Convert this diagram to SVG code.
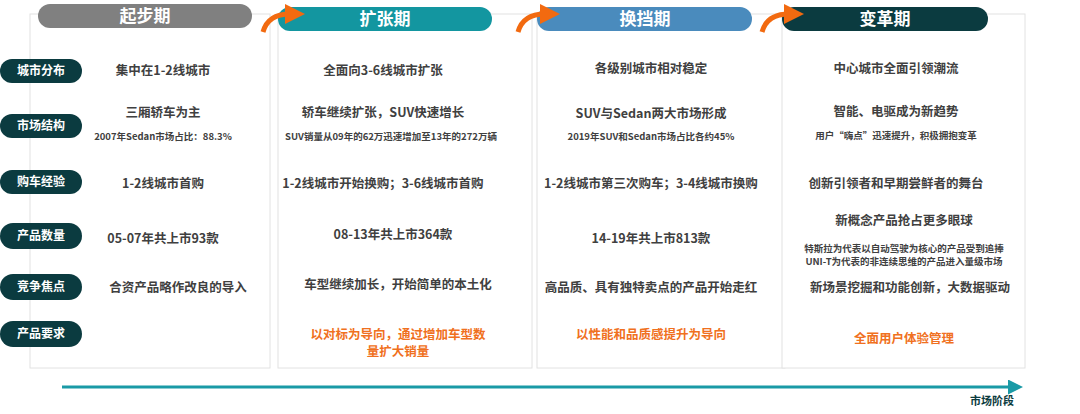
<svg xmlns="http://www.w3.org/2000/svg" width="1080" height="414" viewBox="0 0 1080 414">
<style>
text{font-family:"Noto Sans CJK SC","Noto Sans",sans-serif;font-weight:bold;text-anchor:middle}
.panel{fill:#fff;stroke:#e2e2e2;stroke-width:1}
.hd{font-size:17px;fill:#fff}
.lb{fill:#0b3b40}
.lt{font-size:12px;fill:#fff}
.m{font-size:12.5px;fill:#404040}
.s{font-size:9.5px;fill:#404040}
.o{font-size:12.5px;fill:#f07020}
.arc{fill:none;stroke:#f26a10;stroke-width:5}
</style>
<defs>
<marker id="oh" markerWidth="4" markerHeight="4" refX="1" refY="2" orient="auto"><path d="M0,0L4,2L0,4Z" fill="#f26a10"/></marker>
<marker id="th" markerWidth="5" markerHeight="5" refX="2" refY="2.5" orient="auto"><path d="M0,0L5,2.5L0,5Z" fill="#1a9aa6"/></marker>
</defs>
<g id="col1"><rect class="panel" x="30" y="14" width="240" height="354"/><rect x="38" y="4" width="214" height="24" rx="12" fill="#808080"/><text class="hd" x="145" y="22">起步期</text>
<text class="m" x="163" y="75">集中在1-2线城市</text><text class="m" x="163" y="117">三厢轿车为主</text><text class="s" x="163" y="140">2007年Sedan市场占比：88.3%</text>
<text class="m" x="163" y="188">1-2线城市首购</text><text class="m" x="163" y="243">05-07年共上市93款</text><text class="m" x="178" y="292">合资产品略作改良的导入</text></g>
<g id="col2"><rect class="panel" x="278" y="14" width="254" height="354"/><rect x="278" y="7" width="214" height="24" rx="12" fill="#1396a0"/><text class="hd" x="385" y="25">扩张期</text>
<text class="m" x="383" y="75">全面向3-6线城市扩张</text><text class="m" x="383" y="117">轿车继续扩张，SUV快速增长</text><text class="s" x="391" y="140">SUV销量从09年的62万迅速增加至13年的272万辆</text>
<text class="m" x="383" y="188">1-2线城市开始换购；3-6线城市首购</text><text class="m" x="393" y="239">08-13年共上市364款</text><text class="m" x="398" y="289">车型继续加长，开始简单的本土化</text>
<text class="o" x="398" y="339">以对标为导向，通过增加车型数</text><text class="o" x="398" y="356">量扩大销量</text></g>
<g id="col3"><rect class="panel" x="537" y="14" width="248" height="354"/><rect x="537" y="7" width="215" height="24" rx="12" fill="#4a8bbd"/><text class="hd" x="645" y="25">换挡期</text>
<text class="m" x="651" y="73">各级别城市相对稳定</text><text class="m" x="651" y="118">SUV与Sedan两大市场形成</text><text class="s" x="651" y="140">2019年SUV和Sedan市场占比各约45%</text>
<text class="m" x="651" y="188">1-2线城市第三次购车；3-4线城市换购</text><text class="m" x="651" y="243">14-19年共上市813款</text><text class="m" x="651" y="292">高品质、具有独特卖点的产品开始走红</text>
<text class="o" x="651" y="339">以性能和品质感提升为导向</text></g>
<g id="col4"><rect class="panel" x="782" y="14" width="243" height="354"/><rect x="782" y="7" width="206" height="24" rx="12" fill="#0b3b40"/><text class="hd" x="885" y="25">变革期</text>
<text class="m" x="896" y="73">中心城市全面引领潮流</text><text class="m" x="896" y="116">智能、电驱成为新趋势</text><text class="s" x="896" y="139">用户“嗨点”迅速提升，积极拥抱变革</text>
<text class="m" x="896" y="188">创新引领者和早期尝鲜者的舞台</text><text class="m" x="904" y="225">新概念产品抢占更多眼球</text>
<text class="s" x="904" y="252">特斯拉为代表以自动驾驶为核心的产品受到追捧</text><text class="s" x="904" y="265">UNI-T为代表的非连续思维的产品进入量级市场</text>
<text class="m" x="910" y="292">新场景挖掘和功能创新，大数据驱动</text><text class="o" x="904" y="343">全面用户体验管理</text></g>
<g id="labels">
<rect class="lb" x="0" y="59" width="82" height="24" rx="12"/><text class="lt" x="41" y="75">城市分布</text>
<rect class="lb" x="0" y="114" width="82" height="24" rx="12"/><text class="lt" x="41" y="130">市场结构</text>
<rect class="lb" x="0" y="170" width="82" height="24" rx="12"/><text class="lt" x="41" y="186">购车经验</text>
<rect class="lb" x="0" y="223" width="82" height="26" rx="13"/><text class="lt" x="41" y="240">产品数量</text>
<rect class="lb" x="0" y="274" width="82" height="26" rx="13"/><text class="lt" x="41" y="291">竞争焦点</text>
<rect class="lb" x="0" y="321" width="82" height="26" rx="13"/><text class="lt" x="41" y="338">产品要求</text>
</g>
<g id="connectors">
<path class="arc" d="M263,32 Q268,14 290,14" marker-end="url(#oh)"/>
<path class="arc" d="M518,32 Q523,14 545,14" marker-end="url(#oh)"/>
<path class="arc" d="M762,32 Q767,14 789,14" marker-end="url(#oh)"/>
<line x1="62" y1="387" x2="1014" y2="387" stroke="#1a9aa6" stroke-width="3" marker-end="url(#th)"/>
</g>
<text x="992" y="405" style="font-size:11px;fill:#0b3b40">市场阶段</text>
</svg>
